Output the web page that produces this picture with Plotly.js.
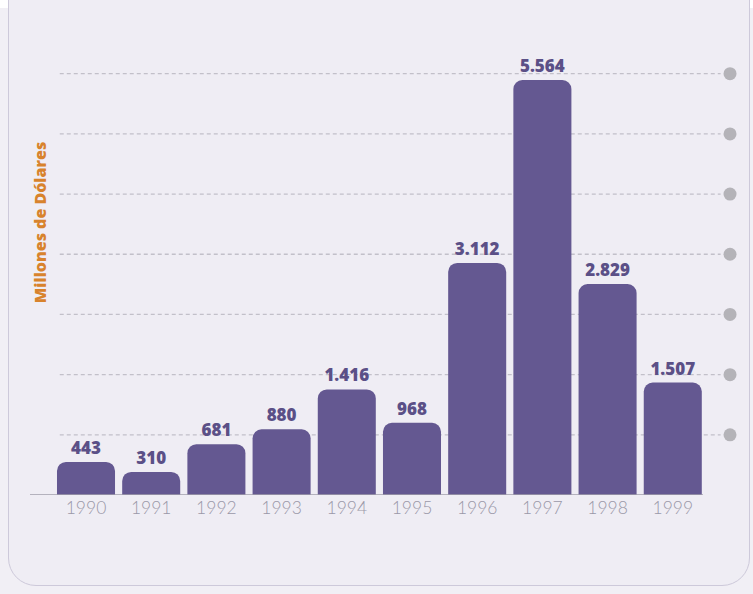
<!DOCTYPE html>
<html>
<head>
<meta charset="utf-8">
<script src="https://cdn.plot.ly/plotly-3.0.1.min.js"></script>
<style>
  html, body { margin:0; padding:0; background:#ffffff; width:753px; height:594px; overflow:hidden; }
  #bg { position:absolute; left:0; top:8px; width:753px; height:586px; background:#f1eff5; }
  #panel { position:absolute; left:8px; top:-30px; width:742px; height:616px;
           background:#efedf4; border:1.5px solid #cdc9da; border-radius:28px; box-sizing:border-box; }
  #chart { position:absolute; left:0; top:0; width:753px; height:594px; }
</style>
</head>
<body>
<div id="bg"></div>
<div id="panel"></div>
<div id="chart"></div>
<script>
const years = ['1990','1991','1992','1993','1994','1995','1996','1997','1998','1999'];
const values = [443, 310, 681, 880, 1416, 968, 3112, 5564, 2829, 1507];
const gridValues = [807, 1614, 2421, 3228, 4035, 4842, 5649];
const yTitle = 'Millones de Dólares';

const shapes = [];
gridValues.forEach(v => {
  shapes.push({type:'line', xref:'paper', yref:'y', x0:0.043, x1:0.998, y0:v, y1:v,
    line:{color:'#c2c0c9', width:1.3, dash:'4px,3px'}, layer:'below'});
  shapes.push({type:'circle', xref:'paper', yref:'y', xsizemode:'pixel', ysizemode:'pixel',
    xanchor:1.0116, yanchor:v, x0:-6.5, x1:6.5, y0:-6.5, y1:6.5,
    fillcolor:'#b4b3b8', line:{width:0}});
});
shapes.push({type:'line', xref:'paper', yref:'y', x0:0, x1:0.9725, y0:0, y1:0,
  line:{color:'#a09eab', width:1.5}});

const trace = {
  type:'bar', x:years, y:values,
  marker:{color:'#645891', cornerradius:9},
  texttemplate:'%{y:,}', textposition:'outside',
  textfont:{family:'Open Sans', size:17, color:'#5b5087', weight:800},
  cliponaxis:false, hoverinfo:'skip'
};

const layout = {
  width:753, height:594,
  margin:{l:30, r:31, t:60, b:99},
  paper_bgcolor:'rgba(0,0,0,0)', plot_bgcolor:'rgba(0,0,0,0)',
  separators:',.',
  bargap:0.11,
  showlegend:false,
  xaxis:{type:'category', range:[-0.859, 9.755], showgrid:false, zeroline:false, showline:false,
    ticks:'', ticklen:0, tickfont:{family:'Lato', size:17.5, color:'#9a98a8', weight:300}, fixedrange:true},
  yaxis:{range:[0, 5833], showgrid:false, zeroline:false, showline:false,
    showticklabels:false, ticks:'', fixedrange:true},
  shapes:shapes,
  annotations:[{text:yTitle, xref:'paper', yref:'paper', x:0.0145, y:0.625,
    xanchor:'center', yanchor:'middle', textangle:-90, showarrow:false,
    font:{family:'Open Sans', size:16, color:'#d8832c', weight:800}}]
};

Plotly.newPlot('chart', [trace], layout, {displayModeBar:false, staticPlot:true});
</script>
</body>
</html>
